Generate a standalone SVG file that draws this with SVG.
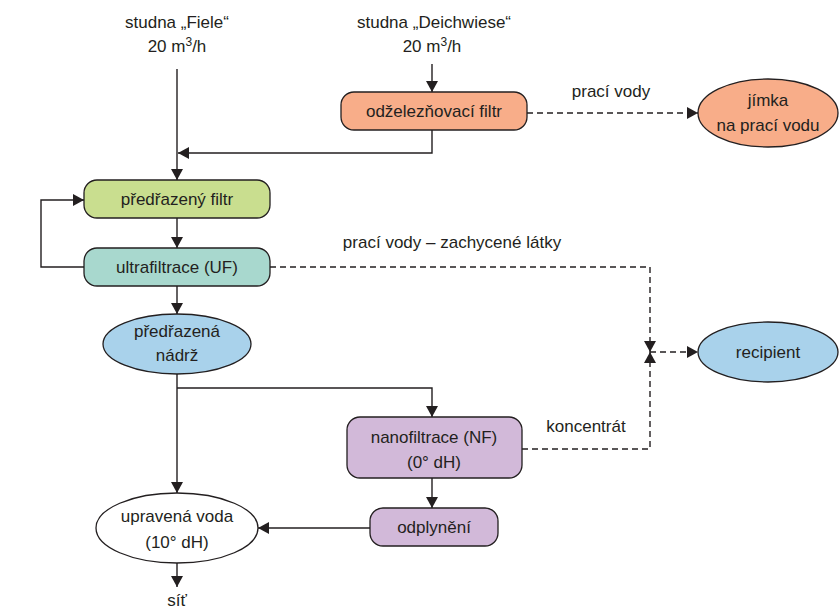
<svg xmlns="http://www.w3.org/2000/svg" width="839" height="610" viewBox="0 0 839 610">
<style>
text{font-family:"Liberation Sans",Arial,sans-serif;font-size:17px;fill:#231F20;text-anchor:middle}
.n{stroke:#231F20;stroke-width:1.3}
.c{fill:none;stroke:#231F20;stroke-width:1.4}
.d{stroke-dasharray:6 4}
</style>
<defs>
<marker id="a" markerUnits="userSpaceOnUse" markerWidth="11" markerHeight="12" refX="11" refY="6" orient="auto">
<path d="M0,0 L11,6 L0,12 z" fill="#231F20"/>
</marker>
</defs>
<rect width="839" height="610" fill="#fff"/>
<g id="connectors">
<path class="c" d="M177,69 V180" marker-end="url(#a)"/>
<path class="c" d="M432,64 V92" marker-end="url(#a)"/>
<path class="c" d="M432,130 V153 H178" marker-end="url(#a)"/>
<path class="c d" d="M527,113 H698" marker-end="url(#a)"/>
<path class="c" d="M177,218 V248" marker-end="url(#a)"/>
<path class="c" d="M84,267 H41 V200 H84" marker-end="url(#a)"/>
<path class="c" d="M177,286 V314" marker-end="url(#a)"/>
<path class="c d" d="M270,267 H650 V352" marker-end="url(#a)"/>
<path class="c d" d="M522,449 H650 V352" marker-end="url(#a)"/>
<path class="c d" d="M650,352 H698" marker-end="url(#a)"/>
<path class="c" d="M177,374 V493" marker-end="url(#a)"/>
<path class="c" d="M177,388 H432 V417" marker-end="url(#a)"/>
<path class="c" d="M432,478 V508" marker-end="url(#a)"/>
<path class="c" d="M370,528 H258" marker-end="url(#a)"/>
<path class="c" d="M177,562 V587" marker-end="url(#a)"/>
</g>
<g id="src-fiele"><text x="177" y="28">studna „Fiele“</text><text x="177" y="52">20 m<tspan font-size="12" dy="-6">3</tspan><tspan dy="6">/h</tspan></text></g>
<g id="src-deichwiese"><text x="434" y="28">studna „Deichwiese“</text><text x="432" y="52">20 m<tspan font-size="12" dy="-6">3</tspan><tspan dy="6">/h</tspan></text></g>
<g id="odzelezovaci"><rect class="n" x="341" y="92" width="186" height="38" rx="13" fill="#F8AD89"/><text x="434" y="117">odželezňovací filtr</text></g>
<g id="jimka"><ellipse class="n" cx="768" cy="113" rx="70" ry="34" fill="#F8AD89"/><text x="768" y="106">jímka</text><text x="768" y="131">na prací vodu</text></g>
<g id="predfiltr"><rect class="n" x="84" y="180" width="186" height="38" rx="13" fill="#C9DE8F"/><text x="177" y="205">předřazený filtr</text></g>
<g id="uf"><rect class="n" x="84" y="248" width="186" height="38" rx="13" fill="#A8D8CE"/><text x="177" y="273">ultrafiltrace (UF)</text></g>
<g id="nadrz"><ellipse class="n" cx="177" cy="344" rx="74" ry="30" fill="#A9D2EB"/><text x="177" y="337">předřazená</text><text x="177" y="361">nádrž</text></g>
<g id="nf"><rect class="n" x="347" y="417" width="175" height="61" rx="13" fill="#D2B9D9"/><text x="434" y="443">nanofiltrace (NF)</text><text x="434" y="468">(0° dH)</text></g>
<g id="odplyneni"><rect class="n" x="370" y="508" width="128" height="38" rx="13" fill="#D2B9D9"/><text x="434" y="533">odplynění</text></g>
<g id="upravena"><ellipse class="n" cx="177" cy="528" rx="81" ry="35" fill="#fff"/><text x="177" y="522">upravená voda</text><text x="177" y="548">(10° dH)</text></g>
<g id="recipient"><ellipse class="n" cx="768" cy="352" rx="70" ry="30" fill="#A9D2EB"/><text x="768" y="358">recipient</text></g>
<g id="labels">
<text x="611" y="97">prací vody</text>
<text x="452" y="248">prací vody – zachycené látky</text>
<text x="586" y="432">koncentrát</text>
<text x="177" y="606">síť</text>
</g>
</svg>
